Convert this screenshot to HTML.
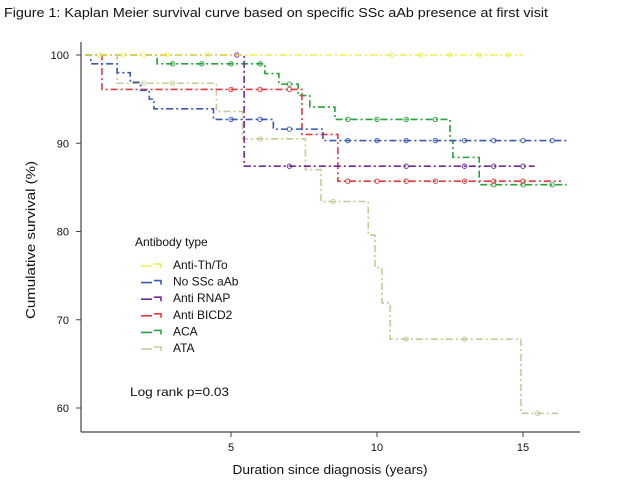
<!DOCTYPE html>
<html><head><meta charset="utf-8"><style>
body{margin:0;background:#fff;width:623px;height:490px;overflow:hidden;font-family:"Liberation Sans",Arial,sans-serif}
svg text{font-family:"Liberation Sans",Arial,sans-serif}
</style></head><body>
<svg id="chart" width="623" height="490">
<text x="4" y="17" font-size="13" textLength="544" lengthAdjust="spacingAndGlyphs" fill="#111">Figure 1: Kaplan Meier survival curve based on specific SSc aAb presence at first visit</text>
<line x1="81" y1="42" x2="81" y2="432" stroke="#444" stroke-width="1.2"/>
<line x1="81" y1="432" x2="580" y2="432" stroke="#444" stroke-width="1.2"/>
<g id="ticks"></g>
<text transform="translate(35,240) rotate(-90)" text-anchor="middle" font-size="12.5" textLength="158" lengthAdjust="spacingAndGlyphs" fill="#111">Cumulative survival (%)</text>
<text x="330" y="474" text-anchor="middle" font-size="13" textLength="195" lengthAdjust="spacingAndGlyphs" fill="#111">Duration since diagnosis (years)</text>
<text x="130" y="396" font-size="12" textLength="99" lengthAdjust="spacingAndGlyphs" fill="#111">Log rank p=0.03</text>
<g id="series"></g>
<g id="legend">
<text x="135" y="246" font-size="12" fill="#111">Antibody type</text>
</g>
</svg>
<script>
const xTicks=[5,10,15];
const yTicks=[60,70,80,90,100];
const names=["Anti-Th/To","No SSc aAb","Anti RNAP","Anti BICD2","ACA","ATA"];
const colors=["#f2ee4a","#3a58b4","#72279a","#e8383c","#27a23a","#cbc897"];
const dashes=["7,3,2,3","7,3,2,3","7,3,2,3","7,3,2,3","7,3,2,3","7,3,2,3"];
const thtoT=[0,15.0];      const thtoS=[100,100];
const noneT=[0,0.2,1.1,1.55,1.9,2.2,2.36,4.4,6.45,8.15,16.5]; const noneS=[100,99,98,96.9,96,95,93.9,92.7,91.6,90.3,90.3];
const rnapT=[0,5.45,15.4]; const rnapS=[100,87.4,87.4];
const bicdT=[0,0.58,7.43,8.66,16.3]; const bicdS=[100,96.1,91,85.7,85.7];
const acaT=[0,2.47,6.16,6.64,7.3,7.7,8.56,12.5,12.6,13.5,16.5]; const acaS=[100,99,97.9,96.7,95.4,94.1,92.7,90.3,88.4,85.3,85.3];
const ataT=[0,1.1,4.5,5.4,7.55,8.08,9.7,9.93,10.17,10.45,14.93,16.2]; const ataS=[100,96.8,93.6,90.5,87,83.4,79.6,75.9,71.9,67.8,59.4,59.4];
const censorT=[[0.5,1.3,2.0,2.8,4.2,10.5,11.5,12.5,13.5,14.5],[5,6,7,9,10,11,12,13,14,15,16],[5.2,7,11,13,14,15],[5,6,7,9,10,11,12,13,14,15],[3,4,5,6,7,9,10,11,12,14,15,16],[2,3,6,8.5,11,13,15.5]];
const X=t=>85+29.2*t, Y=s=>55+(100-s)*8.825;
const NS="http://www.w3.org/2000/svg";
const tk=document.getElementById('ticks');
function mk(tag,attrs,parent){const e=document.createElementNS(NS,tag);for(const k in attrs)e.setAttribute(k,attrs[k]);parent.appendChild(e);return e;}
xTicks.forEach(v=>{
 const l=mk('line',{x1:X(v),x2:X(v),y1:432,y2:437,stroke:'#444'},tk);
 
 
 const t=mk('text',{x:X(v),y:451,'text-anchor':'middle','font-size':11,fill:'#111'},tk);t.textContent=v;
 
 
});
yTicks.forEach(v=>{
 const l=mk('line',{x1:76,x2:81,y1:Y(v),y2:Y(v),stroke:'#444'},tk);
 
 
 const t=mk('text',{x:69,y:Y(v)+4,'text-anchor':'end','font-size':11,fill:'#111'},tk);t.textContent=v;
 
 
});
const T=[thtoT,noneT,rnapT,bicdT,acaT,ataT], S=[thtoS,noneS,rnapS,bicdS,acaS,ataS];
const sg=document.getElementById('series');
function sAt(ts,ss,t){let s=ss[0];for(let i=0;i<ts.length;i++){if(ts[i]<=t)s=ss[i];}return s;}
[5,4,3,2,1,0].forEach(i=>{
 const ts=T[i],ss=S[i];
 let d='M'+X(ts[0])+','+Y(ss[0]);
 for(let k=1;k<ts.length;k++){d+=' H'+X(ts[k])+' V'+Y(ss[k]);}
 const g=mk('g',{},sg);
 
 
 const p=mk('path',{d:d,fill:'none',stroke:colors[i],'stroke-width':1.6,'stroke-dasharray':dashes[i]},g);
 
 
 const tEnd=ts[ts.length-1];
 censorT[i].forEach(c=>{if(c>tEnd)return;
  const cc=mk('circle',{cx:X(c),cy:Y(sAt(ts,ss,c)),r:2.2,fill:'none',stroke:colors[i],'stroke-width':0.9},g);
  
  
 });
});
const lg=document.getElementById('legend');
names.forEach((n,i)=>{
 const y=264+i*16.6;
 const p=mk('path',{d:`M141,${y+2} H152 M154,${y} H161 V${y+4}`,fill:'none',stroke:colors[i],'stroke-width':1.6},lg);
 
 
 const t=mk('text',{x:173,y:y+5,'font-size':12,fill:'#111'},lg);t.textContent=n;
 
 
});
</script>
</body></html>
